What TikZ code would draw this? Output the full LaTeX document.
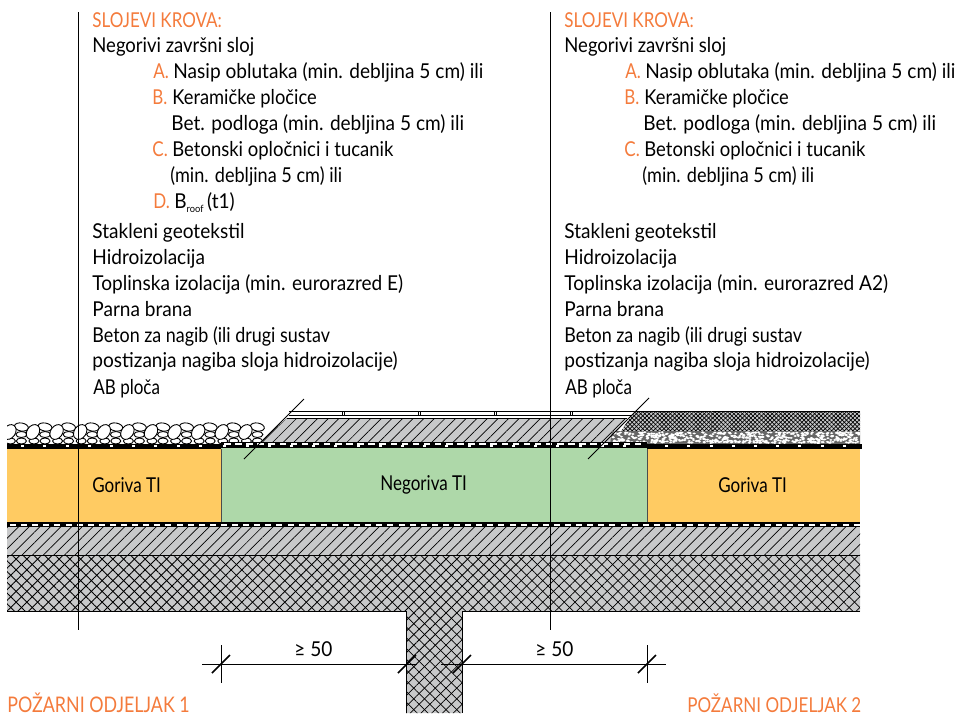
\documentclass[tikz,border=0pt]{standalone}
\usepackage{fontspec}
\setmainfont[FakeStretch=0.93]{Lato}
\newfontfamily\capsfont[FakeStretch=0.83]{Lato}
\usetikzlibrary{patterns.meta}
\definecolor{gorange}{HTML}{FFCB62}
\definecolor{ngreen}{HTML}{AED8A9}
\definecolor{fillgray}{HTML}{C8C9CA}
\definecolor{lblorange}{HTML}{F47B3C}

\begin{document}
\begin{tikzpicture}[x=1pt,y=-1pt,line width=.8pt,
    txt/.style={anchor=base west,inner sep=0pt,font=\fontsize{20.5}{20.5}\selectfont},
    tight/.style={txt,font=\capsfont\fontsize{20.5}{20.5}\selectfont},
    head/.style={tight,text=lblorange},
    comp/.style={head,font=\capsfont\fontsize{21.5}{21.5}\selectfont},
    letter/.style={tight,text=lblorange},
    hatchfill/.style={fill=fillgray,postaction={pattern={Lines[angle=45,distance=7.5pt,line width=.7pt]}}},
    crossfill/.style={fill=fillgray,postaction={pattern={Lines[angle=45,distance=7.6pt,line width=.8pt]}},
        postaction={pattern={Lines[angle=-45,distance=7.6pt,line width=.8pt]}}},
    stone/.style={draw,fill=white,line width=.9pt},
    dimtick/.style={line width=1.6pt}]
    \useasboundingbox (0,0) rectangle (958,715);

    % layers
    \fill[gorange] (7,449) rectangle (221,522);
    \fill[gorange] (647,449) rectangle (860,522);
    \fill[ngreen] (221,447) rectangle (647,522);
    \draw[black!70,line width=1pt] (221,449) -- (221,522);
    \draw[black!70,line width=1pt] (647,449) -- (647,522);
    \path[hatchfill] (7,527) rectangle (860,555);
    \path[crossfill] (7,555) -- (860,555) -- (860,611) -- (462,611) -- (462,713)
        -- (406,713) -- (406,611) -- (7,611) -- cycle;
    \draw (7,555) -- (860,555);
    \draw[line width=1pt] (7,611) -- (406,611) -- (406,713);
    \draw[line width=1pt] (860,611) -- (462,611) -- (462,713);

    % stones
    \foreach \x in {9.4,33,...,260} {
        \draw[stone] (\x+12,441) ellipse (5pt and 3pt);
        \draw[stone] (\x+1,441) ellipse (5pt and 3pt);
        \draw[stone] (\x+12,434.5) ellipse (5.5pt and 3pt);
        \draw[stone,rotate around={-10:(\x+12,427)}] (\x+12,427) ellipse (7pt and 4pt);
        \draw[stone,rotate around={55:(\x,432)}] (\x,432) ellipse (8pt and 6pt);
    }
    \fill[white] (0,410) rectangle (7,449);

    % screed and tiles
    \path[hatchfill] (260,442) -- (287,418) -- (627,418) -- (610,442) -- cycle;
    \draw (287,418) -- (627,418);
    \draw[line width=1pt] (289,411) -- (635,411);
    \draw[line width=.5pt] (289,415) -- (635,415);
    \foreach \x in {343,419,495,571} {
        \draw[line width=.5pt] (\x-1,411) -- (\x-1,415);
        \draw[line width=.5pt] (\x+1,411) -- (\x+1,415);
    }

    % pavers and gravel
    \path[fill=fillgray,postaction={pattern={Lines[angle=45,distance=3pt,line width=.7pt]}},
        postaction={pattern={Lines[angle=-45,distance=3pt,line width=.7pt]}}]
        (635,411) -- (860,411) -- (860,431) -- (621,431) -- cycle;
    \draw (635,411) -- (860,411);
    \draw[black!70,line width=1pt] (711,411) -- (711,431);
    \pgfmathsetseed{17}
    \fill[black!60] (612,431) -- (860,431) -- (860,444) -- (610,444) -- cycle;
    \foreach \i in {1,...,560} {
        \pgfmathsetmacro{\gx}{613+rnd*246}
        \pgfmathsetmacro{\gy}{432+rnd*11}
        \fill[white] (\gx,\gy) ellipse (1.7pt and 1pt);
    }

    % membranes
    \fill (7,444) rectangle (221,449);
    \fill (221,441.7) rectangle (647,447.5);
    \fill (647,444) rectangle (862,449);
    \fill (7,522) rectangle (860,527);
    \foreach \x in {21.2,43.4,...,210} {\fill[white] (\x,445.2) rectangle +(3,2);}
    \foreach \x in {665.2,687.4,...,855} {\fill[white] (\x,445.2) rectangle +(3,2);}
    \foreach \x in {224,235.1,...,640} {\fill[white] (\x,442.6) rectangle +(6.5,2);}
    \foreach \x in {223.3,245.5,...,640} {\fill[white] (\x,445.2) rectangle +(3,1.6);}
    \foreach \x in {10,21.1,...,855} {\fill[white] (\x,523.5) rectangle +(6,2);}

    % section lines and leaders
    \coordinate (sec1top) at (78.5,12);
    \coordinate (sec1end) at (78.5,630);
    \coordinate (sec2top) at (550,12);
    \coordinate (sec2end) at (550,630);
    \draw[line width=1pt] (sec1top) -- (sec1end);
    \draw[line width=1pt] (sec2top) -- (sec2end);
    \coordinate (lead1a) at (304,399);
    \coordinate (lead1b) at (244,459);
    \coordinate (lead2a) at (649,398);
    \coordinate (lead2b) at (588,459);
    \draw (lead1a) -- (lead1b);
    \draw (lead2a) -- (lead2b);

    % dimensions
    \coordinate (dima) at (202,664);
    \coordinate (dimb) at (417,664);
    \coordinate (dimc) at (441,664);
    \coordinate (dimd) at (666,664);
    \draw (dima) -- (dimb);
    \draw (dimc) -- (dimd);
    \draw[line width=.7pt] (221,645) -- (221,683);
    \draw[line width=.7pt] (647,645) -- (647,683);
    \foreach \x in {221,407,462,647} {\draw[dimtick] (\x-9,673) -- (\x+9,655);}

    % labels
    \node[tight] (fuel1) at (92,492.5) {Goriva TI};
    \node[tight] (nonfuel) at (380,490) {Negoriva TI};
    \node[tight] (fuel2) at (718,492) {Goriva TI};
    \node[txt] (dim1) at (294,656.5) {≥ 50};
    \node[txt] (dim2) at (535,656.5) {≥ 50};
    \node[comp] (comp1) at (7,712) {POŽARNI ODJELJAK 1};
    \node[head] (comp2) at (687,712) {POŽARNI ODJELJAK 2};

    \node[head] (l0) at (92,27) {SLOJEVI KROVA:};
    \node[txt,xscale=.97] (l1) at (92,52.5) {Negorivi završni sloj};
    \node[letter] (la) at (153,78) {A.};
    \node[txt] (l2) at (173,78) {Nasip oblutaka (min. debljina 5 cm) ili};
    \node[letter] (lb) at (152,104) {B.};
    \node[txt,xscale=.96] (l3) at (172,104) {Keramičke pločice};
    \node[txt] (l4) at (171,130) {Bet. podloga (min. debljina 5 cm) ili};
    \node[letter] (lc) at (152,156) {C.};
    \node[txt,xscale=.97] (l5) at (172,156) {Betonski opločnici i tucanik};
    \node[txt,xscale=.95] (l6) at (170,182) {(min. debljina 5 cm) ili};
    \node[letter] (ld) at (153,208) {D.};
    \node[txt] (l7) at (174,208) {B\raisebox{-4pt}{\fontsize{10}{10}\selectfont roof}\,(t1)};
    \node[txt] (l8) at (92,238) {Stakleni geotekstil};
    \node[txt] (l9) at (92,264) {Hidroizolacija};
    \node[txt] (l10) at (92,290) {Toplinska izolacija (min. eurorazred E)};
    \node[txt] (l11) at (92,316) {Parna brana};
    \node[txt,xscale=.94] (l12) at (92,342) {Beton za nagib (ili drugi sustav};
    \node[txt] (l13) at (92,367) {postizanja nagiba sloja hidroizolacije)};
    \node[tight] (l14) at (93,394) {AB ploča};

    \node[head] (r0) at (564,27) {SLOJEVI KROVA:};
    \node[txt,xscale=.97] (r1) at (564,52.5) {Negorivi završni sloj};
    \node[letter] (ra) at (625,78) {A.};
    \node[txt] (r2) at (645,78) {Nasip oblutaka (min. debljina 5 cm) ili};
    \node[letter] (rb) at (624,104) {B.};
    \node[txt,xscale=.96] (r3) at (644,104) {Keramičke pločice};
    \node[txt] (r4) at (643,130) {Bet. podloga (min. debljina 5 cm) ili};
    \node[letter] (rc) at (624,156) {C.};
    \node[txt,xscale=.97] (r5) at (644,156) {Betonski opločnici i tucanik};
    \node[txt,xscale=.95] (r6) at (642,182) {(min. debljina 5 cm) ili};
    \node[txt] (r8) at (564,238) {Stakleni geotekstil};
    \node[txt] (r9) at (564,264) {Hidroizolacija};
    \node[txt] (r10) at (564,290) {Toplinska izolacija (min. eurorazred A2)};
    \node[txt] (r11) at (564,316) {Parna brana};
    \node[txt,xscale=.94] (r12) at (564,342) {Beton za nagib (ili drugi sustav};
    \node[txt] (r13) at (564,367) {postizanja nagiba sloja hidroizolacije)};
    \node[tight] (r14) at (565,394) {AB ploča};
\end{tikzpicture}
\end{document}
